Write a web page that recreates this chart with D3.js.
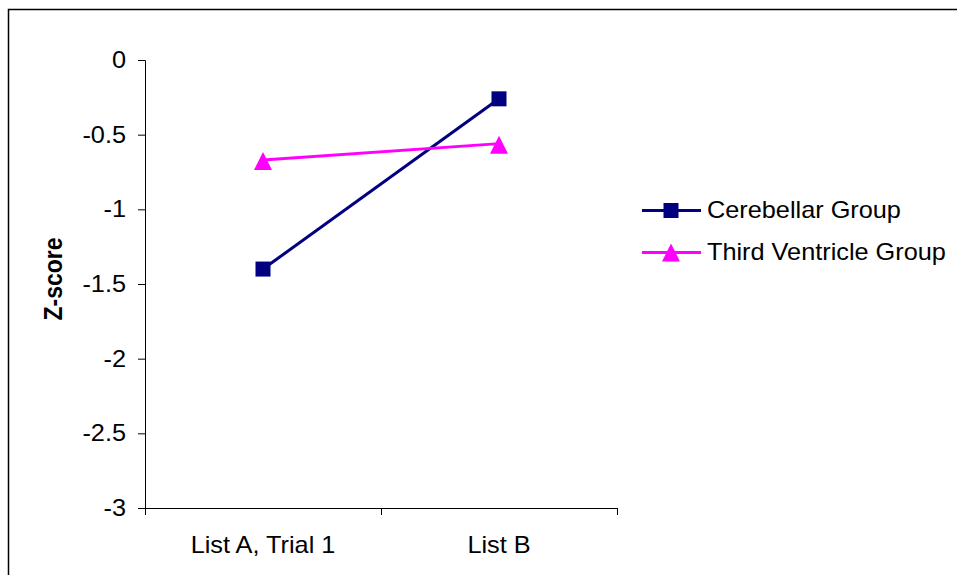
<!DOCTYPE html>
<html>
<head>
<meta charset="utf-8">
<script src="https://cdn.jsdelivr.net/npm/d3@7"></script>
<style>
  html, body { margin: 0; padding: 0; background: #fff; }
  svg { display: block; }
  text { font-family: "Liberation Sans", Arial, sans-serif; fill: #000; }
</style>
</head>
<body>
<svg id="chart" width="957" height="575"></svg>
<script>
const categories = ["List A, Trial 1", "List B"];
const cerebellar = [-1.40, -0.26];
const thirdVentricle = [-0.67, -0.56];
const yTicks = [0, -0.5, -1, -1.5, -2, -2.5, -3];
const seriesNames = ["Cerebellar Group", "Third Ventricle Group"];

const svg = d3.select("#chart");
const SX = 1.1; // horizontal text stretch

function stretch(sel) {
  sel.each(function() {
    const t = d3.select(this);
    const x = +t.attr("x") || 0;
    t.attr("x", 0).attr("transform", `translate(${x},0) scale(${SX},1)`);
  });
}

// outer frame
svg.append("rect").attr("x", 8.5).attr("y", 9.5).attr("width", 1000).attr("height", 700)
  .attr("fill", "none").attr("stroke", "#000").attr("stroke-width", 1.5);

const plot = { left: 145, right: 617, top: 60, bottom: 508 };

const y = d3.scaleLinear().domain([-3, 0]).range([plot.bottom, plot.top]);
const xb = d3.scaleBand().domain(categories).range([plot.left, plot.right]).padding(0);
const xc = d => xb(d) + xb.bandwidth() / 2;

// y axis
const yAxis = svg.append("g").attr("transform", `translate(${plot.left},0)`)
  .call(d3.axisLeft(y).tickValues(yTicks).tickSize(7).tickPadding(12).tickFormat(d => String(d)));
yAxis.select(".domain").attr("stroke", "#000");
yAxis.selectAll(".tick line").attr("stroke", "#000");
yAxis.selectAll("text").attr("font-size", 23).attr("font-family", "Liberation Sans, Arial, sans-serif").attr("fill", "#000");
stretch(yAxis.selectAll("text"));

// x axis line with boundary ticks
const xg = svg.append("g");
xg.append("line").attr("x1", plot.left).attr("x2", plot.right)
  .attr("y1", y(-3) + 0.5).attr("y2", y(-3) + 0.5).attr("stroke", "#000");
const bounds = categories.map(c => xb(c)).concat([xb.range()[1]]);
xg.selectAll("line.tk").data(bounds).join("line").attr("class", "tk")
  .attr("x1", d => d + 0.5).attr("x2", d => d + 0.5)
  .attr("y1", y(-3)).attr("y2", y(-3) + 7).attr("stroke", "#000");
const xl = xg.selectAll("text").data(categories).join("text")
  .attr("x", d => xc(d)).attr("y", 553)
  .attr("text-anchor", "middle").attr("font-size", 23).text(d => d);
stretch(xl);

// y axis title
svg.append("text")
  .attr("transform", `translate(62,279) scale(${SX},1) rotate(-90)`)
  .attr("text-anchor", "middle").attr("font-size", 23).attr("font-weight", "bold")
  .text("Z-score");

// series
const navy = "#000080", magenta = "#FF00FF";
const line = d3.line().x((d, i) => xc(categories[i])).y(d => y(d));

svg.append("path").datum(cerebellar).attr("d", line)
  .attr("fill", "none").attr("stroke", navy).attr("stroke-width", 3);
svg.append("path").datum(thirdVentricle).attr("d", line)
  .attr("fill", "none").attr("stroke", magenta).attr("stroke-width", 3);

const sq = 15;
svg.selectAll("rect.cb").data(cerebellar).join("rect").attr("class", "cb")
  .attr("x", (d, i) => xc(categories[i]) - sq / 2).attr("y", d => y(d) - sq / 2)
  .attr("width", sq).attr("height", sq).attr("fill", navy);

const tri = (cx, cy) => `M${cx},${cy - 8}L${cx + 9},${cy + 10}L${cx - 9},${cy + 10}Z`;
svg.selectAll("path.tv").data(thirdVentricle).join("path").attr("class", "tv")
  .attr("d", (d, i) => tri(xc(categories[i]), y(d))).attr("fill", magenta);

// legend
const legendY = [210.5, 252.5];
const lg = svg.append("g");
seriesNames.forEach((name, i) => {
  const ly = legendY[i];
  const col = i === 0 ? navy : magenta;
  lg.append("line").attr("x1", 642).attr("x2", 701).attr("y1", ly).attr("y2", ly)
    .attr("stroke", col).attr("stroke-width", 3);
  if (i === 0) {
    lg.append("rect").attr("x", 671 - 7.5).attr("y", ly - 7.5).attr("width", 15).attr("height", 15).attr("fill", col);
  } else {
    lg.append("path").attr("d", tri(671, ly - 1)).attr("fill", col);
  }
  const t = lg.append("text").attr("x", 707).attr("y", ly + 7.5).attr("font-size", 23).text(name);
  stretch(t);
});
</script>
</body>
</html>
